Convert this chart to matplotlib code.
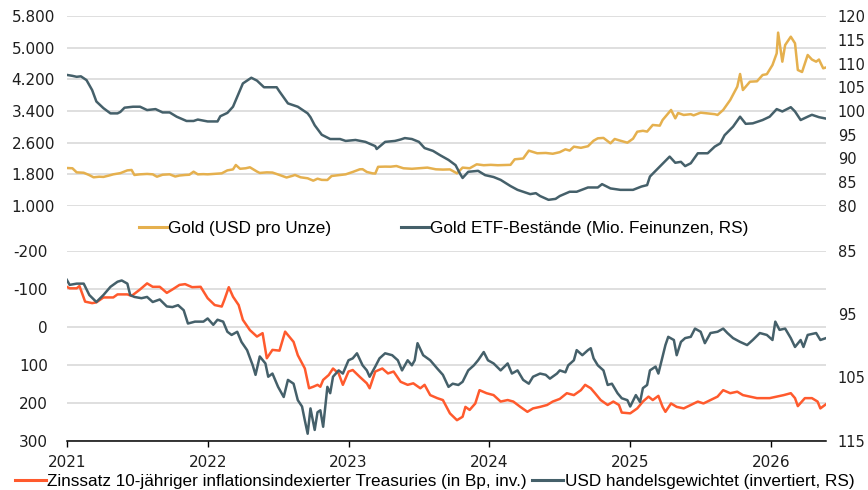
import matplotlib
matplotlib.use("Agg")
import matplotlib.pyplot as plt
from matplotlib.ticker import FuncFormatter, FixedLocator
from matplotlib.lines import Line2D

# ---------------- data (time in fractional years) ----------------
gold_t = [2021.00, 2021.04, 2021.07, 2021.12, 2021.16, 2021.19, 2021.23, 2021.26, 2021.30, 2021.33,
          2021.38, 2021.43, 2021.46, 2021.48, 2021.52, 2021.57, 2021.61, 2021.64, 2021.68, 2021.73,
          2021.77, 2021.80, 2021.84, 2021.87, 2021.90, 2021.93, 2021.97, 2022.00, 2022.04, 2022.10,
          2022.14, 2022.18, 2022.20, 2022.23, 2022.27, 2022.30, 2022.35, 2022.37, 2022.42, 2022.46,
          2022.51, 2022.56, 2022.60, 2022.62, 2022.66, 2022.71, 2022.75, 2022.78, 2022.81, 2022.85,
          2022.88, 2022.94, 2022.98, 2023.03, 2023.08, 2023.10, 2023.13, 2023.17, 2023.19, 2023.21,
          2023.26, 2023.30, 2023.34, 2023.39, 2023.45, 2023.51, 2023.56, 2023.62, 2023.67, 2023.72,
          2023.77, 2023.81, 2023.86, 2023.91, 2023.96, 2024.01, 2024.06, 2024.10, 2024.15, 2024.18,
          2024.24, 2024.28, 2024.34, 2024.40, 2024.45, 2024.50, 2024.54, 2024.57, 2024.60, 2024.65,
          2024.70, 2024.74, 2024.77, 2024.81, 2024.84, 2024.86, 2024.89, 2024.92, 2024.96, 2024.98,
          2025.02, 2025.05, 2025.09, 2025.12, 2025.16, 2025.21, 2025.23, 2025.29, 2025.32, 2025.34,
          2025.38, 2025.43, 2025.45, 2025.50, 2025.55, 2025.60, 2025.62, 2025.66, 2025.71, 2025.76,
          2025.78, 2025.80, 2025.85, 2025.90, 2025.94, 2025.97, 2026.01, 2026.04, 2026.05, 2026.08,
          2026.10, 2026.14, 2026.17, 2026.19, 2026.22, 2026.26, 2026.29, 2026.32, 2026.34, 2026.37,
          2026.39]
gold_usd = [1960, 1953, 1850, 1840, 1780, 1725, 1740, 1735, 1770, 1800,
            1830, 1900, 1910, 1784, 1800, 1810, 1800, 1740, 1790, 1800,
            1745, 1770, 1784, 1790, 1867, 1800, 1805, 1800, 1810, 1825,
            1900, 1925, 2036, 1940, 1953, 1978, 1870, 1835, 1850, 1845,
            1784, 1720, 1760, 1784, 1725, 1700, 1640, 1690, 1660, 1657,
            1758, 1784, 1800, 1860, 1927, 1930, 1860, 1825, 1820, 1990,
            1995, 1993, 2010, 1953, 1940, 1955, 1970, 1927, 1920, 1925,
            1825, 1970, 1953, 2053, 2030, 2040, 2030, 2035, 2040, 2180,
            2200, 2398, 2332, 2340, 2320, 2360, 2432, 2400, 2499, 2470,
            2510, 2650, 2710, 2720, 2640, 2584, 2693, 2660, 2620, 2600,
            2700, 2877, 2900, 2880, 3047, 3030, 3173, 3426, 3215, 3350,
            3300, 3320, 3290, 3358, 3340, 3320, 3300, 3426, 3678, 4014,
            4335, 3930, 4140, 4150, 4310, 4330, 4562, 4857, 5380, 4646,
            5067, 5277, 5110, 4436, 4385, 4815, 4700, 4646, 4700, 4478,
            4500]

etf_t = [2021.00, 2021.04, 2021.07, 2021.10, 2021.14, 2021.18, 2021.21, 2021.26, 2021.31, 2021.36,
         2021.38, 2021.41, 2021.47, 2021.52, 2021.57, 2021.63, 2021.68, 2021.73, 2021.78, 2021.85,
         2021.90, 2021.93, 2022.00, 2022.07, 2022.09, 2022.14, 2022.18, 2022.22, 2022.25, 2022.31,
         2022.35, 2022.40, 2022.49, 2022.51, 2022.57, 2022.64, 2022.71, 2022.73, 2022.76, 2022.81,
         2022.87, 2022.94, 2022.98, 2023.05, 2023.12, 2023.19, 2023.20, 2023.26, 2023.33, 2023.37,
         2023.40, 2023.45, 2023.50, 2023.54, 2023.60, 2023.65, 2023.71, 2023.76, 2023.79, 2023.81,
         2023.85, 2023.92, 2023.97, 2024.03, 2024.08, 2024.15, 2024.20, 2024.25, 2024.29, 2024.33,
         2024.36, 2024.42, 2024.47, 2024.50, 2024.57, 2024.62, 2024.70, 2024.77, 2024.80, 2024.86,
         2024.93, 2025.02, 2025.08, 2025.12, 2025.14, 2025.21, 2025.28, 2025.32, 2025.36, 2025.39,
         2025.43, 2025.48, 2025.55, 2025.60, 2025.64, 2025.67, 2025.73, 2025.78, 2025.82, 2025.87,
         2025.94, 2025.99, 2026.04, 2026.08, 2026.14, 2026.17, 2026.21, 2026.26, 2026.29, 2026.34,
         2026.39]
etf_moz = [107.6, 107.4, 107.2, 107.3, 106.5, 104.4, 102.0, 100.6, 99.5, 99.5,
           99.8, 100.7, 100.9, 100.9, 100.2, 100.4, 99.7, 99.7, 98.8, 97.9,
           97.9, 98.2, 97.8, 97.8, 98.9, 99.6, 100.9, 103.7, 105.8, 107.0,
           106.4, 105.0, 105.0, 104.1, 101.6, 100.9, 99.5, 98.7, 97.0, 95.0,
           94.1, 94.1, 93.7, 93.9, 93.5, 92.6, 92.0, 93.5, 93.7, 94.0,
           94.3, 94.1, 93.5, 92.2, 91.6, 90.7, 89.7, 88.6, 86.9, 85.9,
           87.2, 87.4, 86.5, 86.1, 85.5, 84.2, 83.4, 82.9, 82.5, 82.7,
           82.1, 81.3, 81.5, 82.1, 83.0, 83.0, 83.9, 83.9, 84.6, 83.7,
           83.4, 83.4, 84.1, 84.4, 86.2, 88.3, 90.4, 89.1, 89.3, 88.4,
           89.0, 91.1, 91.1, 92.5, 93.2, 94.9, 96.7, 98.8, 97.3, 97.4,
           98.1, 98.8, 100.4, 99.9, 100.8, 99.9, 98.1, 98.8, 99.2, 98.7,
           98.4]

ry_t = [2021.00, 2021.02, 2021.07, 2021.09, 2021.13, 2021.18, 2021.21, 2021.26, 2021.33, 2021.36,
        2021.43, 2021.46, 2021.52, 2021.57, 2021.61, 2021.66, 2021.71, 2021.75, 2021.80, 2021.84,
        2021.89, 2021.95, 2022.00, 2022.05, 2022.10, 2022.12, 2022.15, 2022.18, 2022.22, 2022.25,
        2022.30, 2022.35, 2022.39, 2022.42, 2022.46, 2022.51, 2022.55, 2022.61, 2022.64, 2022.69,
        2022.72, 2022.75, 2022.78, 2022.80, 2022.82, 2022.86, 2022.89, 2022.93, 2022.96, 2023.00,
        2023.03, 2023.08, 2023.13, 2023.15, 2023.19, 2023.24, 2023.28, 2023.32, 2023.37, 2023.42,
        2023.46, 2023.51, 2023.54, 2023.58, 2023.63, 2023.67, 2023.72, 2023.77, 2023.81, 2023.83,
        2023.86, 2023.90, 2023.93, 2023.98, 2024.03, 2024.08, 2024.13, 2024.17, 2024.22, 2024.27,
        2024.31, 2024.36, 2024.41, 2024.45, 2024.50, 2024.55, 2024.60, 2024.65, 2024.68, 2024.72,
        2024.75, 2024.79, 2024.84, 2024.88, 2024.92, 2024.94, 2025.00, 2025.05, 2025.09, 2025.13,
        2025.16, 2025.20, 2025.23, 2025.25, 2025.29, 2025.33, 2025.38, 2025.43, 2025.48, 2025.52,
        2025.57, 2025.62, 2025.66, 2025.71, 2025.76, 2025.80, 2025.85, 2025.90, 2025.94, 2025.99,
        2026.04, 2026.09, 2026.14, 2026.17, 2026.19, 2026.24, 2026.29, 2026.33, 2026.35, 2026.39]
ry_bp = [-105, -101, -101, -107, -66, -62, -64, -77, -77, -85,
         -85, -81, -98, -114, -105, -105, -89, -98, -110, -112,
         -104, -105, -75, -57, -53, -72, -104, -79, -57, -18,
         9, 26, 17, 83, 61, 63, 13, 40, 75, 110,
         162, 158, 153, 158, 140, 127, 110, 123, 153, 118,
         114, 132, 149, 162, 118, 110, 123, 118, 145, 153,
         149, 162, 153, 180, 188, 193, 228, 246, 237, 211,
         219, 202, 167, 175, 180, 197, 193, 197, 211, 224,
         215, 211, 206, 197, 190, 175, 180, 167, 153, 162,
         175, 193, 206, 197, 206, 226, 228, 215, 197, 184,
         193, 182, 211, 224, 202, 211, 215, 206, 197, 202,
         193, 184, 167, 175, 171, 180, 184, 188, 188, 188,
         184, 180, 175, 188, 209, 188, 188, 197, 215, 204]

usd_t = [2021.00, 2021.02, 2021.07, 2021.12, 2021.16, 2021.21, 2021.26, 2021.31, 2021.36, 2021.39,
         2021.43, 2021.45, 2021.48, 2021.53, 2021.57, 2021.61, 2021.66, 2021.71, 2021.75, 2021.79,
         2021.83, 2021.86, 2021.91, 2021.97, 2022.00, 2022.04, 2022.07, 2022.11, 2022.14, 2022.17,
         2022.21, 2022.24, 2022.28, 2022.32, 2022.34, 2022.37, 2022.41, 2022.43, 2022.46, 2022.50,
         2022.54, 2022.57, 2022.61, 2022.64, 2022.67, 2022.69, 2022.71, 2022.73, 2022.76, 2022.78,
         2022.80, 2022.82, 2022.85, 2022.87, 2022.89, 2022.93, 2022.96, 2023.00, 2023.03, 2023.06,
         2023.10, 2023.13, 2023.15, 2023.19, 2023.22, 2023.26, 2023.31, 2023.35, 2023.38, 2023.42,
         2023.45, 2023.47, 2023.49, 2023.53, 2023.58, 2023.63, 2023.67, 2023.71, 2023.74, 2023.78,
         2023.81, 2023.85, 2023.89, 2023.92, 2023.96, 2023.99, 2024.03, 2024.08, 2024.13, 2024.16,
         2024.20, 2024.24, 2024.28, 2024.31, 2024.36, 2024.40, 2024.43, 2024.48, 2024.50, 2024.54,
         2024.56, 2024.60, 2024.62, 2024.66, 2024.70, 2024.72, 2024.74, 2024.77, 2024.81, 2024.84,
         2024.87, 2024.91, 2024.94, 2024.98, 2025.00, 2025.04, 2025.07, 2025.09, 2025.12, 2025.14,
         2025.18, 2025.20, 2025.23, 2025.25, 2025.27, 2025.31, 2025.33, 2025.36, 2025.39, 2025.43,
         2025.46, 2025.50, 2025.53, 2025.57, 2025.62, 2025.66, 2025.69, 2025.73, 2025.78, 2025.83,
         2025.87, 2025.92, 2025.97, 2026.01, 2026.03, 2026.06, 2026.10, 2026.14, 2026.17, 2026.21,
         2026.23, 2026.26, 2026.32, 2026.35, 2026.39]
usd_idx = [89.6, 90.4, 90.2, 90.2, 92.0, 93.1, 92.0, 90.7, 89.9, 89.7,
           90.2, 92.0, 92.3, 92.5, 92.3, 93.1, 92.7, 93.8, 93.9, 93.6,
           94.4, 96.5, 96.2, 96.2, 95.7, 96.7, 95.9, 96.2, 97.8, 98.3,
           97.8, 99.4, 100.7, 103.1, 104.6, 101.7, 102.8, 104.9, 104.4, 106.5,
           108.1, 105.4, 106.0, 108.6, 109.6, 111.8, 113.9, 109.9, 113.3, 110.5,
           110.2, 112.8, 106.5, 107.5, 104.9, 103.9, 104.4, 102.3, 102.0, 101.2,
           103.1, 103.9, 104.9, 103.3, 102.0, 101.2, 101.5, 102.3, 103.9, 102.3,
           103.1, 102.3, 99.6, 101.5, 102.3, 103.6, 104.6, 106.5, 106.0, 106.2,
           105.7, 103.9, 103.1, 102.3, 101.0, 102.3, 102.8, 103.9, 102.8, 104.4,
           103.9, 105.4, 106.0, 104.9, 104.4, 104.6, 105.2, 104.4, 103.9, 104.2,
           103.1, 102.3, 100.7, 101.5, 100.7, 100.4, 102.0, 103.1, 103.9, 106.2,
           106.0, 107.5, 108.3, 108.6, 109.6, 107.8, 108.9, 106.7, 106.2, 103.9,
           103.3, 104.4, 101.7, 99.9, 98.6, 99.1, 101.5, 99.4, 98.8, 98.6,
           97.3, 97.8, 99.6, 98.0, 97.8, 97.3, 98.0, 98.8, 99.4, 99.9,
           99.1, 98.0, 98.3, 99.1, 96.2, 97.5, 97.3, 98.8, 100.2, 99.1,
           100.2, 98.3, 98.0, 99.1, 98.8]

years = [2021, 2022, 2023, 2024, 2025, 2026]
gold_ticks = [1000, 1800, 2600, 3400, 4200, 5000, 5800]
etf_ticks = [80, 85, 90, 95, 100, 105, 110, 115, 120]
ry_ticks = [-200, -100, 0, 100, 200, 300]
usd_ticks = [85, 95, 105, 115]

legend_top = ["Gold (USD pro Unze)", "Gold ETF-Bestände (Mio. Feinunzen, RS)"]
legend_bottom = ["Zinssatz 10-jähriger inflationsindexierter Treasuries (in Bp, inv.)",
                 "USD handelsgewichtet (invertiert, RS)"]

# ---------------- style ----------------
C_GOLD = "#E5B04E"
C_SLATE = "#45606A"
C_ORANGE = "#FF5A2D"
C_GRID = "#D9D9D9"
C_TEXT = "#1E1E1E"
TICK_FAMILY = "DejaVu Sans"
TICK_SIZE = 11
TICK_SIZE_R = 10.5
LEG_FONT = {"family": ["Liberation Sans", "DejaVu Sans"], "size": 12.3}
LW = 1.8

fig = plt.figure(figsize=(8.68, 4.90), dpi=100)
W, H = 868.0, 490.0
x0, x1 = 66.8, 826.0
ax_top = fig.add_axes([x0 / W, 1 - 206 / H, (x1 - x0) / W, 190 / H])
ax_bot = fig.add_axes([x0 / W, 1 - 440.7 / H, (x1 - x0) / W, 190 / H])
ax_top2 = ax_top.twinx()
ax_bot2 = ax_bot.twinx()

xlim = (2021.0, 2026.39)

# top panel
ax_top.plot(gold_t, gold_usd, color=C_GOLD, lw=LW, solid_joinstyle="round")
ax_top2.plot(etf_t, etf_moz, color=C_SLATE, lw=LW, solid_joinstyle="round")
ax_top.set_ylim(1000, 5800)
ax_top2.set_ylim(80, 120)

# bottom panel
ax_bot.plot(ry_t, ry_bp, color=C_ORANGE, lw=LW, solid_joinstyle="round")
ax_bot2.plot(usd_t, usd_idx, color=C_SLATE, lw=LW, solid_joinstyle="round")
ax_bot.set_ylim(300, -200)
ax_bot2.set_ylim(115, 85)

for a in (ax_top, ax_top2, ax_bot, ax_bot2):
    a.set_xlim(*xlim)
    for s in a.spines.values():
        s.set_visible(False)
    a.patch.set_visible(False)

# gridlines
ax_top.yaxis.set_major_locator(FixedLocator(gold_ticks))
ax_top.grid(axis="y", color=C_GRID, lw=1.2)
ax_top.set_axisbelow(True)
ax_bot.yaxis.set_major_locator(FixedLocator(ry_ticks))
ax_bot.grid(axis="y", color=C_GRID, lw=1.2)
ax_bot.set_axisbelow(True)

ax_top2.yaxis.set_major_locator(FixedLocator(etf_ticks))
ax_bot2.yaxis.set_major_locator(FixedLocator(usd_ticks))

ax_top.yaxis.set_major_formatter(FuncFormatter(lambda v, p: f"{int(v):,}".replace(",", ".")))
ax_bot.yaxis.set_major_formatter(FuncFormatter(lambda v, p: f"{int(v)}"))
ax_top2.yaxis.set_major_formatter(FuncFormatter(lambda v, p: f"{int(v)}"))
ax_bot2.yaxis.set_major_formatter(FuncFormatter(lambda v, p: f"{int(v)}"))

ax_top.tick_params(axis="y", length=0, pad=8.5, labelcolor=C_TEXT)
ax_top2.tick_params(axis="y", length=0, pad=8.5, labelcolor=C_TEXT)
ax_bot.tick_params(axis="y", length=0, pad=13.5, labelcolor=C_TEXT)
ax_bot2.tick_params(axis="y", length=0, pad=8.5, labelcolor=C_TEXT)
ax_top.tick_params(axis="x", bottom=False, labelbottom=False)
for a in (ax_top2, ax_bot2):
    a.tick_params(axis="x", bottom=False, labelbottom=False)

ax_bot.spines["bottom"].set_visible(True)
ax_bot.spines["bottom"].set_color("#000000")
ax_bot.spines["bottom"].set_linewidth(1.1)
ax_bot.xaxis.set_major_locator(FixedLocator(years))
ax_bot.xaxis.set_major_formatter(FuncFormatter(lambda v, p: f"{int(round(v))}"))
ax_bot.tick_params(axis="x", direction="out", length=4, width=1, color="#000000",
                   pad=6, labelcolor=C_TEXT)

for a in (ax_top, ax_bot):
    for lab in a.get_xticklabels() + a.get_yticklabels():
        lab.set_fontfamily(TICK_FAMILY)
        lab.set_fontsize(TICK_SIZE)
for a in (ax_top2, ax_bot2):
    for lab in a.get_yticklabels():
        lab.set_fontfamily(TICK_FAMILY)
        lab.set_fontsize(TICK_SIZE_R)

# legends
h_top = [Line2D([], [], color=C_GOLD, lw=2.2), Line2D([], [], color=C_SLATE, lw=2.2)]
fig.legend(h_top, legend_top, loc="center", bbox_to_anchor=(444 / W, 1 - 228 / H),
           ncol=2, frameon=False, prop=LEG_FONT, handlelength=1.6, handletextpad=0.1,
           columnspacing=4.1, borderpad=0, borderaxespad=0)

h_bot = [Line2D([], [], color=C_ORANGE, lw=2.2), Line2D([], [], color=C_SLATE, lw=2.2)]
fig.legend(h_bot, legend_bottom, loc="center left", bbox_to_anchor=(15 / W, 1 - 481 / H),
           ncol=2, frameon=False, prop=LEG_FONT, handlelength=1.8, handletextpad=0.1,
           columnspacing=0.3, borderpad=0, borderaxespad=0)

fig.savefig("out.png", dpi=100)
